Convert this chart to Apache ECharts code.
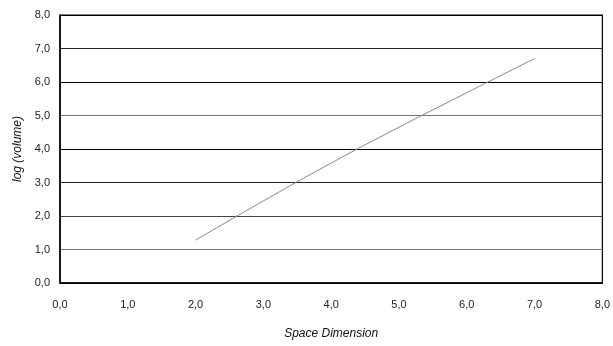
<!DOCTYPE html>
<html>
<head>
<meta charset="utf-8">
<script src="https://cdn.jsdelivr.net/npm/echarts@6/dist/echarts.min.js"></script>
<style>
  html, body { margin: 0; padding: 0; background: #fff; }
  #chart { width: 613px; height: 346px; }
</style>
</head>
<body>
<div id="chart"></div>
<script>
// 空间维度 vs log(volume)
var dims = [2, 3, 4, 5, 6, 7];
var logVolume = [1.28, 2.45, 3.58, 4.65, 5.68, 6.7];

var chart = echarts.init(document.getElementById("chart"));
var fmt = function (v) {
  return v.toFixed(1).replace(".", ",");
};

var option = {
  animation: false,
  grid: {
    left: 60,
    right: 8,
    top: 15,
    bottom: 63,
    show: true,
    borderColor: "#000",
    borderWidth: 1.2,
  },
  xAxis: {
    type: "value",
    min: 0,
    max: 8,
    interval: 1,
    name: "Space Dimension",
    nameLocation: "middle",
    nameGap: 45,
    nameTextStyle: {
      fontFamily: "Liberation Sans",
      fontStyle: "italic",
      fontSize: 12,
      color: "#111",
    },
    axisLine: { lineStyle: { color: "#000", width: 1.5 } },
    axisTick: { show: false },
    axisLabel: {
      formatter: fmt,
      margin: 16,
      fontFamily: "Liberation Sans",
      fontSize: 11,
      color: "#222",
    },
    splitLine: { show: false },
  },
  yAxis: {
    type: "value",
    min: 0,
    max: 8,
    interval: 1,
    name: "log (volume)",
    nameLocation: "middle",
    nameGap: 36,
    nameTextStyle: {
      fontFamily: "Liberation Sans",
      fontStyle: "italic",
      fontSize: 12,
      color: "#111",
    },
    axisLine: { lineStyle: { color: "#000", width: 1.5 } },
    axisTick: { show: false },
    axisLabel: {
      formatter: fmt,
      margin: 10,
      fontFamily: "Liberation Sans",
      fontSize: 11,
      color: "#222",
    },
    splitLine: {
      show: true,
      lineStyle: {
        // 扫描件里网格线深浅不一
        color: ["#000", "#777", "#444", "#222", "#000", "#777", "#000", "#222", "#000"],
        width: 1.2,
      },
    },
  },
  series: [
    {
      type: "line",
      data: dims.map(function (d, i) {
        return [d, logVolume[i]];
      }),
      smooth: true,
      symbol: "none",
      lineStyle: { color: "#888", width: 1 },
    },
  ],
};
chart.setOption(option);
</script>
</body>
</html>
